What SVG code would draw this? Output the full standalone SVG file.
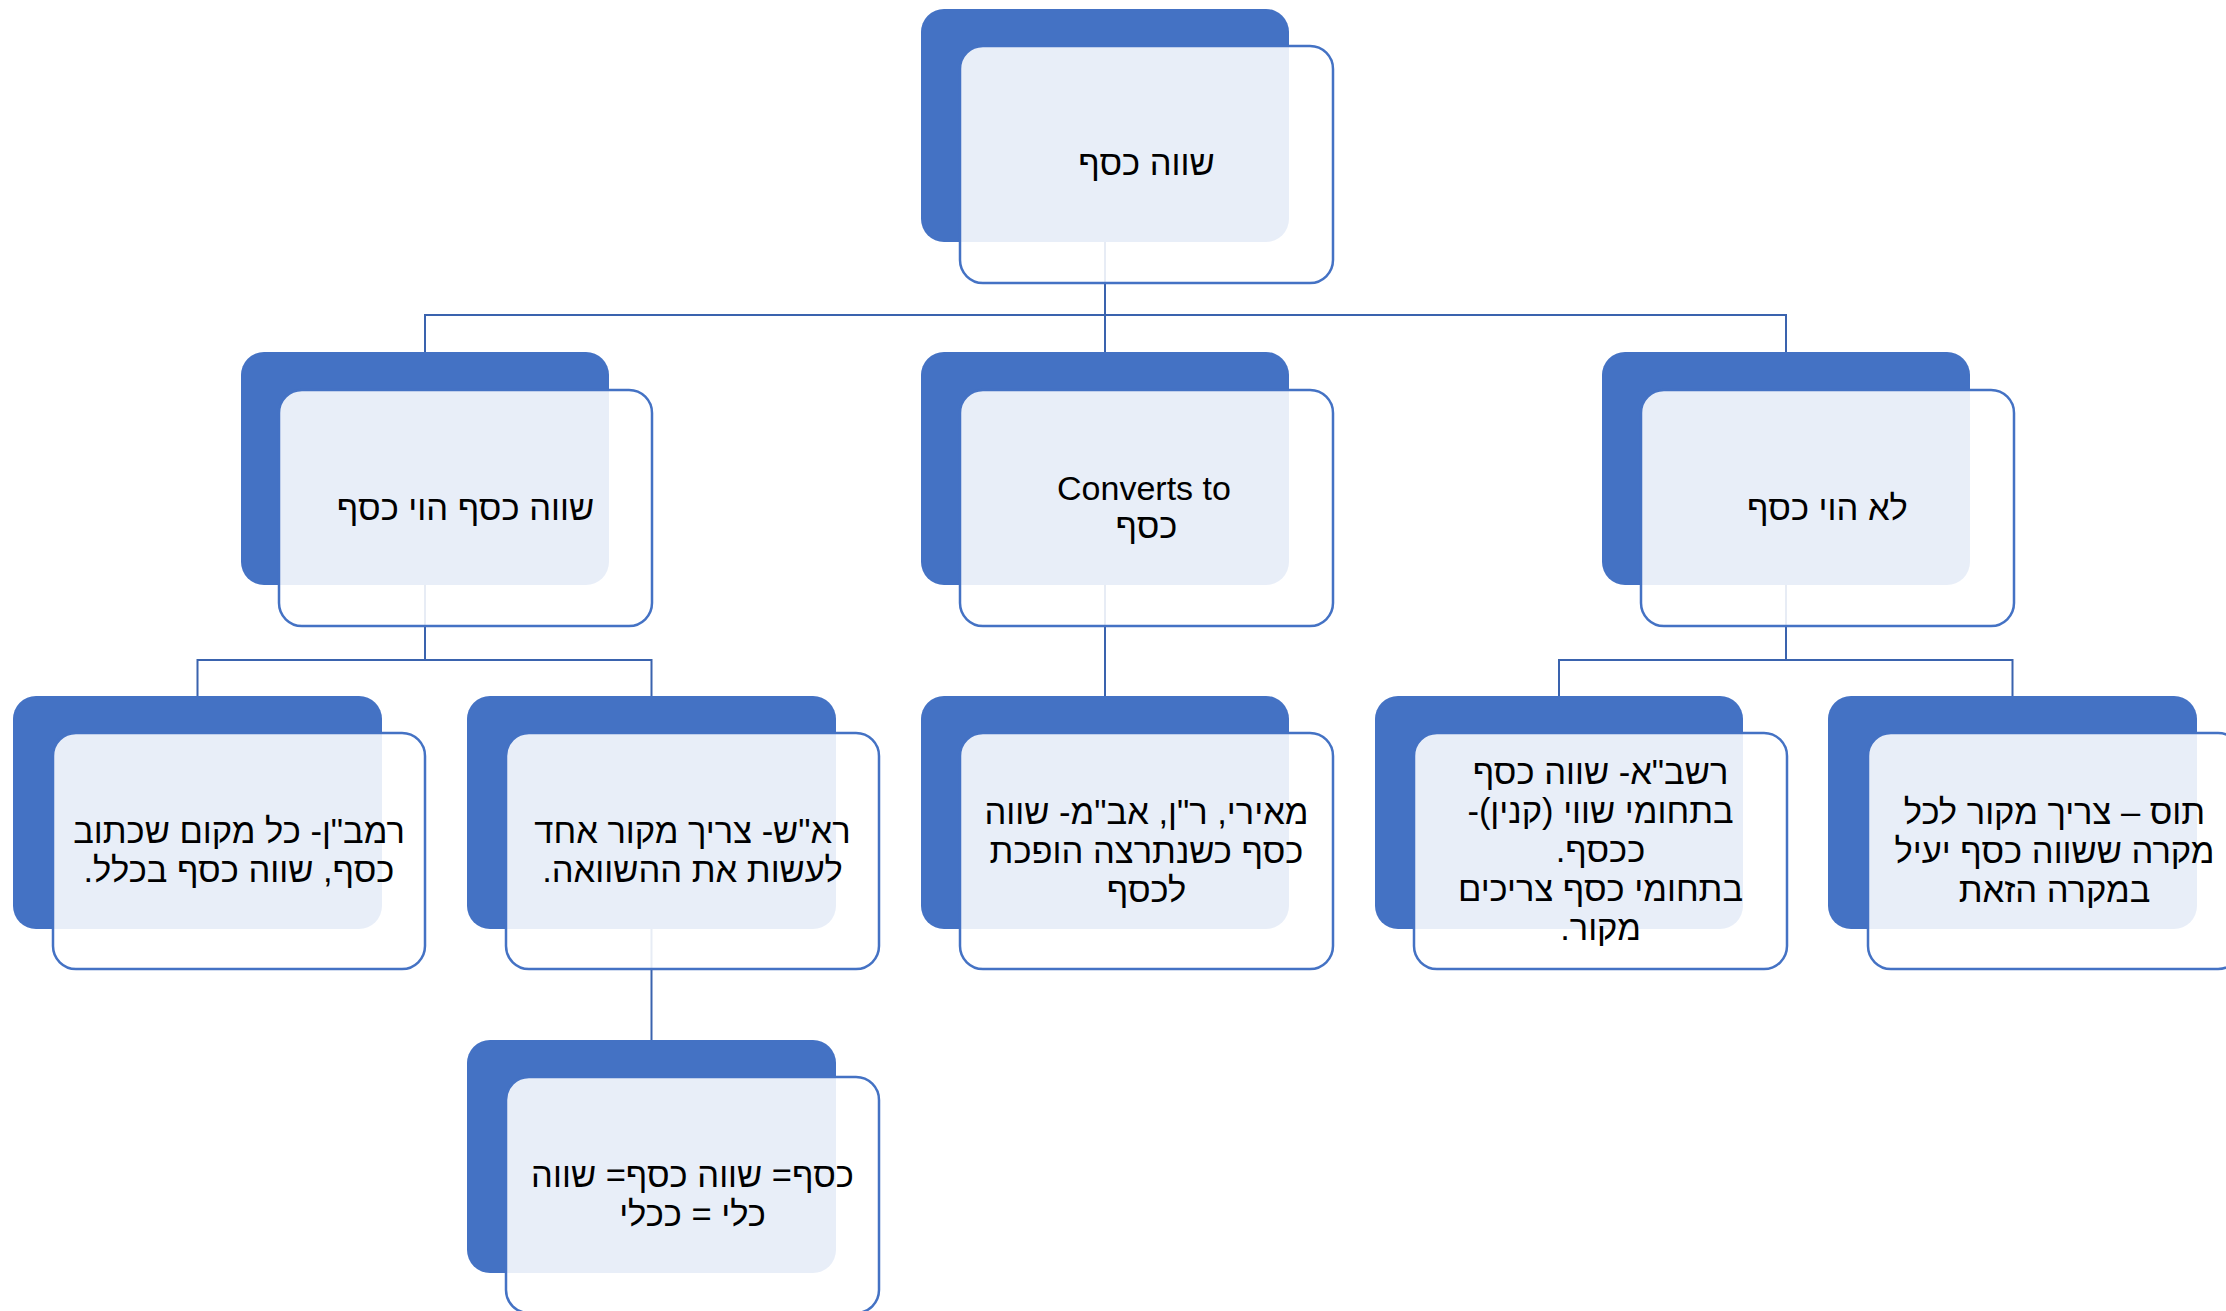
<svg xmlns="http://www.w3.org/2000/svg" width="2226" height="1311" viewBox="0 0 2226 1311">
<style>
.dark{fill:#4472C4}
.box{fill:#fff;fill-opacity:0.88;stroke:#4472C4;stroke-width:2.5}
.lbl{font-family:"Liberation Sans",Arial,sans-serif;font-size:34.5px;fill:#000;text-anchor:middle;direction:rtl}
.lat{font-size:34px}
.conn{fill:none;stroke:#3A63AE;stroke-width:2}
</style>
<rect width="2226" height="1311" fill="#fff"/>
<g id="connectors">
<path class="conn" d="M1105 242 V352 M425 352 V315 H1786 V352"/>
<path class="conn" d="M425 585 V660 M197.5 696 V660 H651.5 V696"/>
<path class="conn" d="M1105 585 V696"/>
<path class="conn" d="M1786 585 V660 M1559 696 V660 H2012.5 V696"/>
<path class="conn" d="M651.5 929 V1040"/>
</g>
<g id="root">
<rect class="dark" x="921" y="9" width="368" height="233" rx="23"/>
<rect class="box" x="960" y="46" width="373" height="237" rx="23"/>
<text class="lbl" x="1146.5" y="175">שווה כסף</text>
</g>
<g id="n-shave-hevi">
<rect class="dark" x="241" y="352" width="368" height="233" rx="23"/>
<rect class="box" x="279" y="390" width="373" height="236" rx="23"/>
<text class="lbl" x="465.5" y="520">שווה כסף הוי כסף</text>
</g>
<g id="n-converts">
<rect class="dark" x="921" y="352" width="368" height="233" rx="23"/>
<rect class="box" x="960" y="390" width="373" height="236" rx="23"/>
<text class="lbl lat" x="1144" y="500">Converts to</text>
<text class="lbl" x="1146.5" y="538">כסף</text>
</g>
<g id="n-lo-hevi">
<rect class="dark" x="1602" y="352" width="368" height="233" rx="23"/>
<rect class="box" x="1641" y="390" width="373" height="236" rx="23"/>
<text class="lbl" x="1827.5" y="520">לא הוי כסף</text>
</g>
<g id="n-ramban">
<rect class="dark" x="13" y="696" width="369" height="233" rx="23"/>
<rect class="box" x="53" y="733" width="372" height="236" rx="23"/>
<text class="lbl" x="239" y="843">רמב"ן- כל מקום שכתוב</text>
<text class="lbl" x="239" y="882">כסף, שווה כסף בכלל.</text>
</g>
<g id="n-rosh">
<rect class="dark" x="467" y="696" width="369" height="233" rx="23"/>
<rect class="box" x="506" y="733" width="373" height="236" rx="23"/>
<text class="lbl" x="692.5" y="843">רא"ש- צריך מקור אחד</text>
<text class="lbl" x="692.5" y="882">לעשות את ההשוואה.</text>
</g>
<g id="n-meiri">
<rect class="dark" x="921" y="696" width="368" height="233" rx="23"/>
<rect class="box" x="960" y="733" width="373" height="236" rx="23"/>
<text class="lbl" x="1146.5" y="824">מאירי, ר"ן, אב"מ- שווה</text>
<text class="lbl" x="1146.5" y="863">כסף כשנתרצה הופכת</text>
<text class="lbl" x="1146.5" y="902">לכסף</text>
</g>
<g id="n-rashba">
<rect class="dark" x="1375" y="696" width="368" height="233" rx="23"/>
<rect class="box" x="1414" y="733" width="373" height="236" rx="23"/>
<text class="lbl" x="1600.5" y="784">רשב"א- שווה כסף</text>
<text class="lbl" x="1600.5" y="823">בתחומי שווי (קנין)-</text>
<text class="lbl" x="1600.5" y="862">ככסף.</text>
<text class="lbl" x="1600.5" y="901">בתחומי כסף צריכים</text>
<text class="lbl" x="1600.5" y="940">מקור.</text>
</g>
<g id="n-tosafot">
<rect class="dark" x="1828" y="696" width="369" height="233" rx="23"/>
<rect class="box" x="1868" y="733" width="373" height="236" rx="23"/>
<text class="lbl" x="2054.5" y="824">תוס – צריך מקור לכל</text>
<text class="lbl" x="2054.5" y="863">מקרה ששווה כסף יעיל</text>
<text class="lbl" x="2054.5" y="902">במקרה הזאת</text>
</g>
<g id="n-kesef-kli">
<rect class="dark" x="467" y="1040" width="369" height="233" rx="23"/>
<rect class="box" x="506" y="1077" width="373" height="236" rx="23"/>
<text class="lbl" x="692.5" y="1187">כסף= שווה כסף= שווה</text>
<text class="lbl" x="692.5" y="1226">כלי = ככלי</text>
</g>
</svg>
